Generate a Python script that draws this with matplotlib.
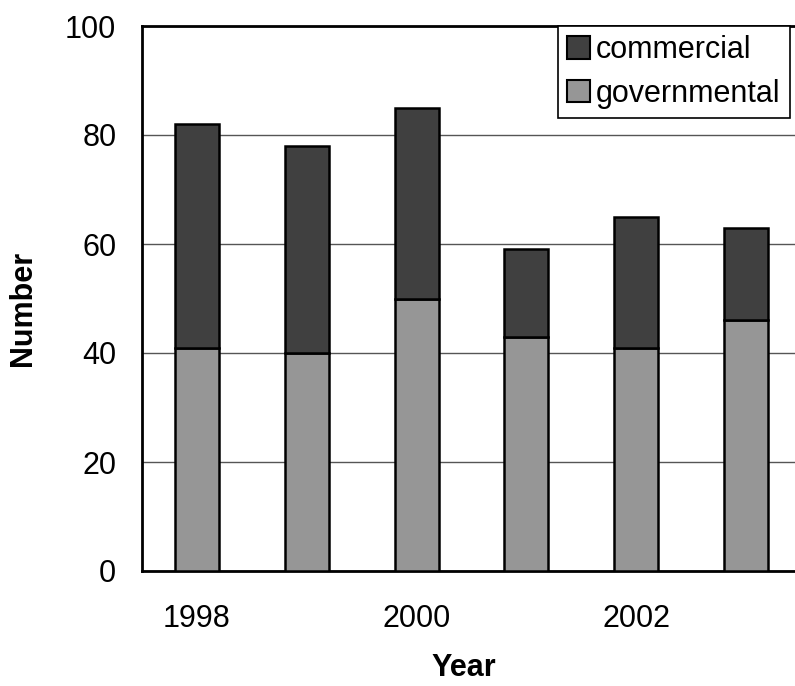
import matplotlib
matplotlib.use("Agg")
import matplotlib.pyplot as plt
from matplotlib.patches import Patch

years = [1998, 1999, 2000, 2001, 2002, 2003]
governmental = [41, 40, 50, 43, 41, 46]
commercial = [41, 38, 35, 16, 24, 17]
year_ticks = [1998, 2000, 2002]
y_ticks = [0, 20, 40, 60, 80, 100]

plt.rcParams['font.family'] = ['Liberation Sans', 'DejaVu Sans']

fig = plt.figure(figsize=(7.95, 6.86), dpi=100)
ax = fig.add_axes([142 / 795, 115 / 686, 659 / 795, 545 / 686])

dark = '#404040'
light = '#969696'
ax.bar(years, governmental, width=0.4, color=light, edgecolor='black', linewidth=1.8, zorder=3)
ax.bar(years, commercial, width=0.4, bottom=governmental, color=dark, edgecolor='black',
       linewidth=1.8, zorder=3)

ax.set_xlim(1997.5, 2003.5)
ax.set_ylim(0, 100)
ax.set_yticks(y_ticks)
ax.set_xticks(year_ticks)
ax.tick_params(axis='both', length=0, labelsize=22)
ax.tick_params(axis='x', pad=23.5)
ax.tick_params(axis='y', pad=18.5)
ax.yaxis.grid(True, color='#555555', linewidth=1.0, zorder=0)
for s in ax.spines.values():
    s.set_linewidth(2)
    s.set_color('black')

ax.set_xlabel('Year', fontsize=22, fontweight='bold', va='center')
ax.xaxis.set_label_coords(0.489, -0.178)
ax.set_ylabel('Number', fontsize=22, fontweight='bold', va='center')
ax.yaxis.set_label_coords(-0.1806, 0.4826)

handles = [Patch(facecolor=dark, edgecolor='black', linewidth=1.5, label='commercial'),
           Patch(facecolor=light, edgecolor='black', linewidth=1.5, label='governmental')]
leg = ax.legend(handles=handles, loc='upper left', bbox_to_anchor=(0.631, 1.0), borderaxespad=0,
                fontsize=22, handlelength=0.75, handleheight=0.75, handletextpad=0.2,
                labelspacing=0.45, borderpad=0.3, fancybox=False, framealpha=1,
                edgecolor='black')
leg.get_frame().set_linewidth(1.2)
leg.set_zorder(5)

fig.savefig('out.png', dpi=100)
